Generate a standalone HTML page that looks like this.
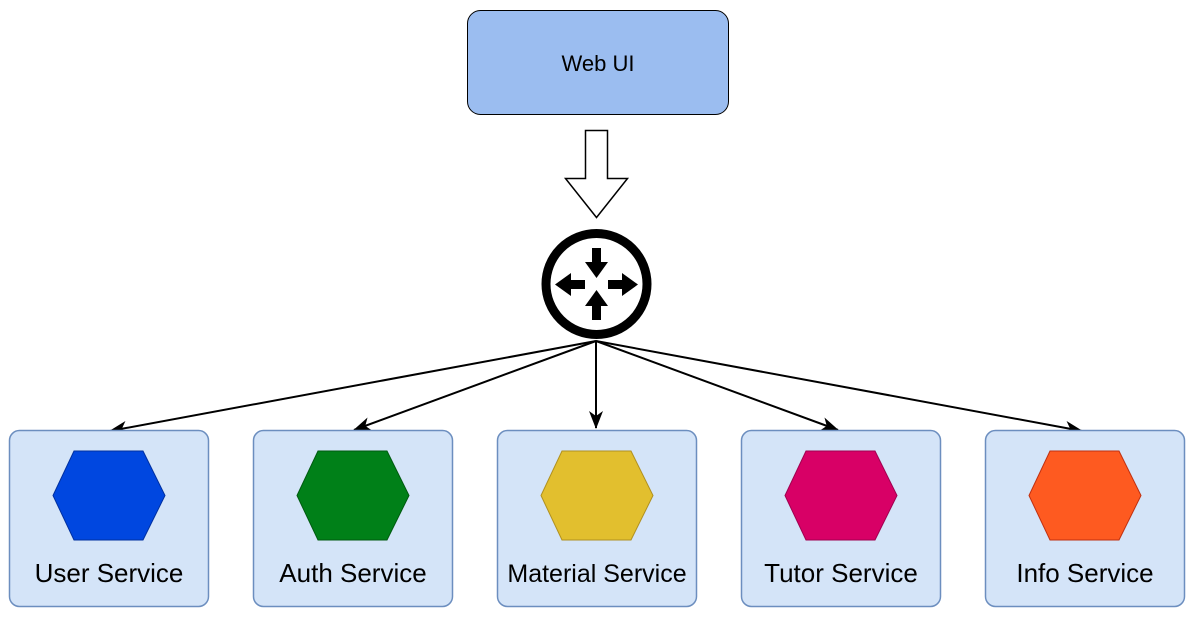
<!DOCTYPE html>
<html><head><style>body{margin:0;background:#fff}svg{display:block}</style></head><body>
<svg width="1196" height="618" viewBox="0 0 1196 618" xmlns="http://www.w3.org/2000/svg">
<defs><marker id="a" markerWidth="20" markerHeight="16" refX="17" refY="8" orient="auto" markerUnits="userSpaceOnUse"><path d="M0,1 L18,8 L0,15 L5,8 Z" fill="#000"/></marker></defs>
<rect x="467.5" y="10.5" width="261" height="104" rx="13" fill="#9bbdf0" stroke="#000" stroke-width="1"/>
<text x="598" y="71" font-family="Liberation Sans, sans-serif" font-size="22" text-anchor="middle">Web UI</text>
<path d="M585.5,130.5 H607.5 V178.5 H627.5 L596.5,217.5 L565.5,178.5 H585.5 Z" fill="#fff" stroke="#000" stroke-width="1.5"/>
<circle cx="596.5" cy="284" r="50.5" fill="#fff" stroke="#000" stroke-width="9"/>
<g fill="#000">
<path d="M592,248 H601 V262 H608 L596.5,278 L585,262 H592 Z"/>
<path d="M592,320 H601 V306 H608 L596.5,290 L585,306 H592 Z"/>
<path d="M585,280 V289 H571 V296 L555,284.5 L571,273 V280 Z"/>
<path d="M608,280 V289 H622 V296 L638,284.5 L622,273 V280 Z"/>
</g>
<g stroke="#000" stroke-width="2" fill="none" marker-end="url(#a)">
<line x1="596" y1="341" x2="110" y2="431"/>
<line x1="596" y1="341" x2="354" y2="430"/>
<line x1="596" y1="341" x2="596" y2="428"/>
<line x1="596" y1="341" x2="838" y2="430"/>
<line x1="596" y1="341" x2="1082" y2="431"/>
</g>
<g font-family="Liberation Sans, sans-serif" font-size="26" text-anchor="middle">
<g><rect x="9.5" y="430.5" width="199" height="176" rx="10" fill="#d4e4f8" stroke="#6c8ebf" stroke-width="1.5"/><path d="M74,451 H143 L165,495.5 L143,540 H74 L53,495.5 Z" fill="#0047e0" stroke="#0030a0"/><text x="109" y="582">User Service</text></g>
<g transform="translate(244,0)"><rect x="9.5" y="430.5" width="199" height="176" rx="10" fill="#d4e4f8" stroke="#6c8ebf" stroke-width="1.5"/><path d="M74,451 H143 L165,495.5 L143,540 H74 L53,495.5 Z" fill="#008018" stroke="#005a10"/><text x="109" y="582">Auth Service</text></g>
<g transform="translate(488,0)"><rect x="9.5" y="430.5" width="199" height="176" rx="10" fill="#d4e4f8" stroke="#6c8ebf" stroke-width="1.5"/><path d="M74,451 H143 L165,495.5 L143,540 H74 L53,495.5 Z" fill="#e2bf2e" stroke="#b09020"/><text x="109" y="582" font-size="25">Material Service</text></g>
<g transform="translate(732,0)"><rect x="9.5" y="430.5" width="199" height="176" rx="10" fill="#d4e4f8" stroke="#6c8ebf" stroke-width="1.5"/><path d="M74,451 H143 L165,495.5 L143,540 H74 L53,495.5 Z" fill="#d80066" stroke="#a00050"/><text x="109" y="582">Tutor Service</text></g>
<g transform="translate(976,0)"><rect x="9.5" y="430.5" width="199" height="176" rx="10" fill="#d4e4f8" stroke="#6c8ebf" stroke-width="1.5"/><path d="M74,451 H143 L165,495.5 L143,540 H74 L53,495.5 Z" fill="#fe5a20" stroke="#c03010"/><text x="109" y="582">Info Service</text></g>
</g>
</svg>
</body></html>
